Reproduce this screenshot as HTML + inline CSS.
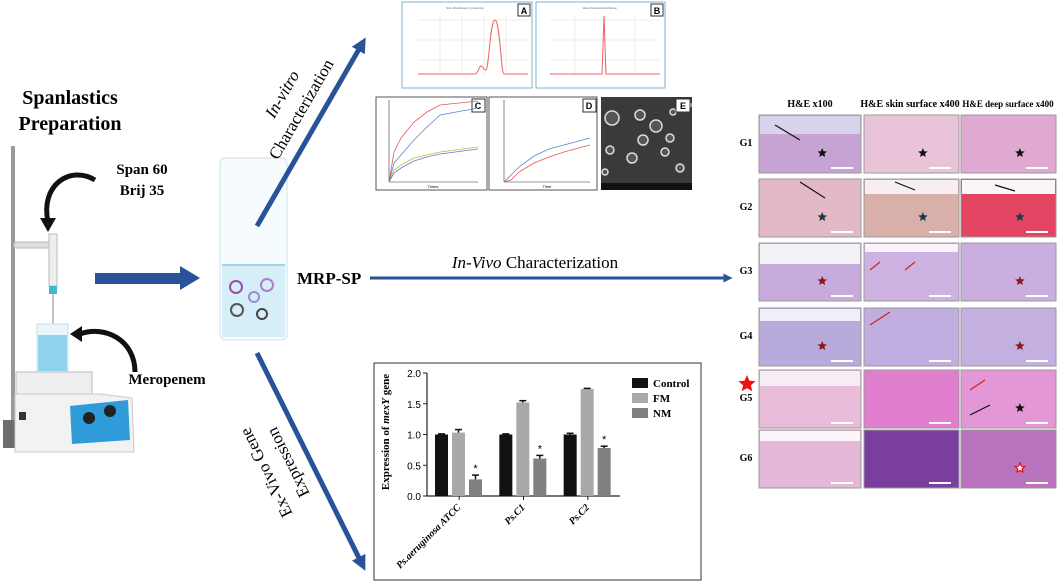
<!DOCTYPE html>
<html><head><meta charset="utf-8">
<style>
html,body{margin:0;padding:0;background:#fff;}
svg{display:block;}
.serif{font-family:"Liberation Serif",serif;}
.sans{font-family:"Liberation Sans",sans-serif;}
</style></head>
<body>
<svg id="root" width="1059" height="583" viewBox="0 0 1059 583" xmlns="http://www.w3.org/2000/svg">
<defs>
<marker id="ah" viewBox="0 0 10 10" refX="5" refY="5" markerWidth="3" markerHeight="3" orient="auto"><path d="M0,0 L10,5 L0,10 z" fill="#2a5298"/></marker>
</defs>

<!-- Left: preparation -->
<g>
<text class="serif" x="70" y="104" font-size="20" font-weight="bold" text-anchor="middle">Spanlastics</text>
<text class="serif" x="70" y="130" font-size="20" font-weight="bold" text-anchor="middle">Preparation</text>
<text class="serif" x="142" y="174" font-size="15" font-weight="bold" text-anchor="middle">Span 60</text>
<text class="serif" x="142" y="195" font-size="15" font-weight="bold" text-anchor="middle">Brij 35</text>
<text class="serif" x="167" y="384" font-size="15" font-weight="bold" text-anchor="middle">Meropenem</text>
<rect x="11" y="146" width="4" height="280" fill="#9a9a9a"/>
<polygon points="3,420 60,420 120,436 130,448 3,448" fill="#6d6d6d"/>
<rect x="14" y="242" width="42" height="6" rx="2" fill="#ddd" stroke="#bbb"/>
<rect x="49" y="234" width="8" height="52" fill="#eee" stroke="#bbb"/>
<rect x="49" y="286" width="8" height="8" fill="#3cb7d6"/>
<line x1="53" y1="294" x2="53" y2="325" stroke="#888" stroke-width="1"/>
<rect x="37" y="324" width="31" height="48" fill="#eaf6fb" stroke="#c6dde6"/>
<rect x="38" y="335" width="29" height="36" fill="#8fd3ec"/>
<polygon points="16,372 92,372 92,394 16,394" fill="#efefef" stroke="#bbb"/>
<polygon points="15,394 100,394 132,398 134,452 15,452" fill="#f2f2f2" stroke="#c9c9c9"/>
<polygon points="70,406 128,400 130,440 72,444" fill="#2f9bd8"/>
<circle cx="89" cy="418" r="6" fill="#222"/><circle cx="110" cy="411" r="6" fill="#222"/>
<rect x="19" y="412" width="7" height="8" fill="#333"/>
<path d="M95,180 C70,165 40,185 48,222" fill="none" stroke="#111" stroke-width="5"/>
<polygon points="40,218 56,218 48,232" fill="#111"/>
<path d="M135,372 C135,340 105,325 80,334" fill="none" stroke="#111" stroke-width="5"/>
<polygon points="82,326 82,342 70,334" fill="#111"/>
<rect x="95" y="273" width="85" height="11" fill="#2a5298"/>
<polygon points="180,266 200,278 180,290" fill="#2a5298"/>
<g>
<rect x="220" y="158" width="67" height="182" rx="5" fill="#f6fbfd" stroke="#d0e2ea"/>
<rect x="222" y="265" width="63" height="72" fill="#d6eef7"/>
<line x1="222" y1="265" x2="285" y2="265" stroke="#9fd4ea" stroke-width="2"/>
<circle cx="236" cy="287" r="6" fill="none" stroke="#9b4fa8" stroke-width="2"/>
<circle cx="254" cy="297" r="5" fill="none" stroke="#9d8ad0" stroke-width="2"/>
<circle cx="267" cy="285" r="6" fill="none" stroke="#b47cc8" stroke-width="2"/>
<circle cx="237" cy="310" r="6" fill="none" stroke="#555" stroke-width="2"/>
<circle cx="262" cy="314" r="5" fill="none" stroke="#444" stroke-width="2"/>
</g>
<text class="serif" x="297" y="284" font-size="17" font-weight="bold">MRP-SP</text>
</g>

<line x1="257" y1="226" x2="362" y2="44" stroke="#2a5298" stroke-width="5" marker-end="url(#ah)"/>
<g transform="translate(287,97) rotate(-60)"><text class="serif" x="0" y="0" font-size="17" font-style="italic" text-anchor="middle">In-vitro</text></g>
<g transform="translate(306,112) rotate(-60)"><text class="serif" x="0" y="0" font-size="17" text-anchor="middle">Characterization</text></g>
<line x1="257" y1="353" x2="362" y2="564" stroke="#2a5298" stroke-width="5" marker-end="url(#ah)"/>
<g transform="translate(271,470) rotate(-116.5)"><text class="serif" x="0" y="0" font-size="17" text-anchor="middle">Ex-Vivo Gene</text></g>
<g transform="translate(293,460) rotate(-116.5)"><text class="serif" x="0" y="0" font-size="17" text-anchor="middle">Expression</text></g>
<line x1="370" y1="278" x2="728" y2="278" stroke="#2a5298" stroke-width="3" marker-end="url(#ah)"/>
<text class="serif" x="535" y="268" font-size="17" text-anchor="middle"><tspan font-style="italic">In-Vivo</tspan> Characterization</text>

<g>
<rect x="402" y="2" width="130" height="86" fill="#fff" stroke="#7fb0d0"/>
<text class="sans" x="465" y="9" font-size="3" fill="#666" text-anchor="middle">Size Distribution by Intensity</text>
<rect x="518" y="4" width="12" height="12" fill="#fff" stroke="#333"/><text class="sans" x="524" y="14" font-size="9" font-weight="bold" text-anchor="middle">A</text>
<g stroke="#ddd" stroke-width="0.5"><line x1="418" y1="20" x2="528" y2="20"/><line x1="418" y1="40" x2="528" y2="40"/><line x1="418" y1="60" x2="528" y2="60"/><line x1="440" y1="16" x2="440" y2="75"/><line x1="462" y1="16" x2="462" y2="75"/><line x1="484" y1="16" x2="484" y2="75"/><line x1="506" y1="16" x2="506" y2="75"/></g>
<path d="M418,74 L475,74 C478,74 479,66 481,66 C483,66 484,71 486,70 C489,68 490,20 495,20 C500,20 501,74 504,74 L528,74" fill="none" stroke="#f06060" stroke-width="1"/>
</g>
<g>
<rect x="536" y="2" width="129" height="86" fill="#fff" stroke="#7fb0d0"/>
<text class="sans" x="600" y="9" font-size="3" fill="#666" text-anchor="middle">Zeta Potential Distribution</text>
<rect x="651" y="4" width="12" height="12" fill="#fff" stroke="#333"/><text class="sans" x="657" y="14" font-size="9" font-weight="bold" text-anchor="middle">B</text>
<g stroke="#ddd" stroke-width="0.5"><line x1="550" y1="20" x2="660" y2="20"/><line x1="550" y1="40" x2="660" y2="40"/><line x1="550" y1="60" x2="660" y2="60"/><line x1="575" y1="16" x2="575" y2="75"/><line x1="605" y1="16" x2="605" y2="75"/><line x1="635" y1="16" x2="635" y2="75"/></g>
<path d="M550,74 L602,74 L604,16 L606,74 L660,74" fill="none" stroke="#f06060" stroke-width="1"/>
</g>
<g>
<rect x="376" y="97" width="111" height="93" fill="#fff" stroke="#555"/>
<rect x="472" y="99" width="13" height="13" fill="#fff" stroke="#333"/><text class="sans" x="478" y="109" font-size="9" font-weight="bold" text-anchor="middle">C</text>
<line x1="389" y1="100" x2="389" y2="182" stroke="#333" stroke-width="0.6"/><line x1="389" y1="182" x2="478" y2="182" stroke="#333" stroke-width="0.6"/>
<path d="M389,182 L394,152 L401,138 L414,122 L427,112 L440,105 L478,101" fill="none" stroke="#e55" stroke-width="0.8"/>
<path d="M389,182 L394,163 L401,155 L414,140 L427,127 L440,115 L478,108" fill="none" stroke="#58c" stroke-width="0.8"/>
<path d="M389,182 L394,170 L401,165 L414,158 L427,155 L440,152 L478,147" fill="none" stroke="#9c3" stroke-width="0.8"/>
<path d="M389,182 L394,173 L401,168 L414,161 L427,157 L440,154 L478,149" fill="none" stroke="#86c" stroke-width="0.8"/>
<text class="sans" x="433" y="188" font-size="4" text-anchor="middle">Times</text>
</g>
<g>
<rect x="489" y="97" width="108" height="93" fill="#fff" stroke="#555"/>
<rect x="583" y="99" width="13" height="13" fill="#fff" stroke="#333"/><text class="sans" x="589" y="109" font-size="9" font-weight="bold" text-anchor="middle">D</text>
<line x1="504" y1="100" x2="504" y2="182" stroke="#333" stroke-width="0.6"/><line x1="504" y1="182" x2="590" y2="182" stroke="#333" stroke-width="0.6"/>
<path d="M504,182 L511,175 L519,167 L534,156 L549,149 L564,145 L590,138" fill="none" stroke="#58c" stroke-width="0.8"/>
<path d="M504,182 L511,180 L519,172 L534,163 L549,157 L564,152 L590,145" fill="none" stroke="#e55" stroke-width="0.8"/>
<text class="sans" x="547" y="188" font-size="4" text-anchor="middle">Time</text>
</g>
<g>
<rect x="601" y="97" width="91" height="93" fill="#3a3a3a"/>
<g fill="#555" stroke="#ddd" stroke-width="1.5">
<circle cx="612" cy="118" r="7"/><circle cx="640" cy="115" r="5"/><circle cx="656" cy="126" r="6"/><circle cx="643" cy="140" r="5"/><circle cx="665" cy="152" r="4"/><circle cx="610" cy="150" r="4"/><circle cx="670" cy="138" r="4"/><circle cx="680" cy="168" r="4"/><circle cx="632" cy="158" r="5"/><circle cx="605" cy="172" r="3"/><circle cx="688" cy="105" r="3"/><circle cx="673" cy="112" r="3"/>
</g>
<rect x="676" y="99" width="14" height="13" fill="#fff" stroke="#333"/><text class="sans" x="683" y="109" font-size="9" font-weight="bold" text-anchor="middle">E</text>
<rect x="601" y="183" width="91" height="7" fill="#111"/>
</g>

<g id="histo">
<text class="serif" x="810" y="107" font-size="10" font-weight="bold" text-anchor="middle">H&amp;E x100</text>
<text class="serif" x="910" y="107" font-size="10" font-weight="bold" text-anchor="middle">H&amp;E skin surface x400</text>
<text class="serif" x="1008" y="107" font-size="9" font-weight="bold" text-anchor="middle">H&amp;E deep surface x400</text>
</g>

<g id="barchart">
<rect x="374" y="363" width="327" height="217" fill="#fff" stroke="#333" stroke-width="1"/>
<g transform="translate(389,432) rotate(-90)"><text class="serif" x="0" y="0" font-size="11" font-weight="bold" text-anchor="middle">Expression of <tspan font-style="italic">mexY</tspan> gene</text></g>
</g>
</svg>
<script>
const NS='http://www.w3.org/2000/svg';
function mk(tag,attrs,parent){const e=document.createElementNS(NS,tag);for(const k in attrs)e.setAttribute(k,attrs[k]);parent.appendChild(e);return e;}

const histo=document.getElementById('histo');
const rowLabels=['G1','G2','G3','G4','G5','G6'];
const rowTops=[115,179,243,308,370,430];
const colLefts=[759,864,961];
const colWidths=[102,95,95];
const cellColors=[
 ['#c7a3d4','#e9c3d8','#dfa9d2'],
 ['#e2b9c4','#d9b0a9','#e24462'],
 ['#c7abdc','#cdb2e2','#cbaee0'],
 ['#b9aadc','#c1aee0','#c4b0e0'],
 ['#e9bcd9','#e07fce','#e397d6'],
 ['#e6b8d8','#7a3f9e','#b873bc']];
const starColors=[
 ['#111','#111','#111'],
 ['#1d3a4a','#1d3a4a','#1d3a4a'],
 ['#8b1a1a',null,'#8b1a1a'],
 ['#8b1a1a',null,'#8b1a1a'],
 [null,null,'#111'],
 [null,null,'#fff']];
function starPts(cx,cy,R){let p=[];for(let i=0;i<10;i++){const r=i%2?R*0.45:R;const a=-Math.PI/2+i*Math.PI/5;p.push((cx+r*Math.cos(a)).toFixed(1)+','+(cy+r*Math.sin(a)).toFixed(1));}return p.join(' ');}
rowLabels.forEach((lab,r)=>{
  const t=mk('text',{x:746,y:rowTops[r]+31,'font-size':10,'font-weight':'bold','text-anchor':'middle','class':'serif'},histo);
  t.textContent=lab;
  
  
  for(let c=0;c<3;c++){
    const rc=mk('rect',{x:colLefts[c],y:rowTops[r],width:colWidths[c],height:58,fill:cellColors[r][c],stroke:'#999','stroke-width':1},histo);
    
    
    mk('rect',{x:colLefts[c]+colWidths[c]-30,y:rowTops[r]+52,width:22,height:2,fill:'#fff'},histo);
  }
});
mk('rect',{x:760,y:116,width:100,height:18,fill:'#d6d3ea'},histo);
mk('rect',{x:760,y:244,width:100,height:20,fill:'#f3f1f6'},histo);
mk('rect',{x:760,y:309,width:100,height:12,fill:'#eef0f8'},histo);
mk('rect',{x:760,y:371,width:100,height:15,fill:'#f4eef3'},histo);
mk('rect',{x:760,y:431,width:100,height:10,fill:'#fbf6fa'},histo);
mk('rect',{x:865,y:180,width:93,height:14,fill:'#f6eef0'},histo);
mk('rect',{x:962,y:180,width:93,height:14,fill:'#faf5f6'},histo);
mk('rect',{x:865,y:244,width:93,height:8,fill:'#f8f4fa'},histo);
rowLabels.forEach((lab,r)=>{
  for(let c=0;c<3;c++){
    const sc=starColors[r][c];
    if(!sc) continue;
    const cx=colLefts[c]+colWidths[c]*0.62, cy=rowTops[r]+38;
    const s=mk('polygon',{points:starPts(cx,cy,5),fill:sc,stroke:sc==='#fff'?'#d00':'none','stroke-width':1},histo);
    
    
  }
});
[[775,125,800,140,'#111'],[895,182,915,190,'#111'],[800,182,825,198,'#111'],[995,185,1015,191,'#111'],[870,270,880,262,'#c22'],[905,270,915,262,'#c22'],[870,325,890,312,'#c22'],[970,390,985,380,'#c22'],[970,415,990,405,'#111']].forEach(a=>{
  const l=mk('line',{x1:a[0],y1:a[1],x2:a[2],y2:a[3],stroke:a[4],'stroke-width':1.2},histo);
  
  
});
const bs=mk('polygon',{points:starPts(747,384,9),fill:'#f01010'},histo);



// ---- Bar chart ----
const categories=['Ps.aeruginosa ATCC','Ps.C1','Ps.C2'];
const seriesNames=['Control','FM','NM'];
const controlVals=[1.0,1.0,1.0];
const fmVals=[1.03,1.52,1.74];
const nmVals=[0.27,0.61,0.78];
const controlErr=[0.01,0.01,0.02];
const fmErr=[0.05,0.03,0.01];
const nmErr=[0.07,0.05,0.03];
const yTicks=[0,0.5,1.0,1.5,2.0];
const yTickLabels=['0.0','0.5','1.0','1.5','2.0'];

const bc=document.getElementById('barchart');
const x0=427,x1=620,yZero=496,yTop=373,yMax=2.0;
const yScale=v=>yZero-(v/yMax)*(yZero-yTop);
const groupW=(x1-x0)/categories.length;
const barW=13,gap=4;
const colors=['#111111','#a9a9a9','#808080'];
const series=[controlVals,fmVals,nmVals];
const errs=[controlErr,fmErr,nmErr];

const ya=mk('line',{x1:x0,y1:yTop,x2:x0,y2:yZero,stroke:'#222','stroke-width':1.2},bc);


const xa=mk('line',{x1:x0,y1:yZero,x2:x1,y2:yZero,stroke:'#222','stroke-width':1.2},bc);


yTicks.forEach((v,i)=>{
  const y=yScale(v);
  mk('line',{x1:x0-4,y1:y,x2:x0,y2:y,stroke:'#222'},bc);
  const t=mk('text',{x:x0-6,y:y+4,'font-size':10,'text-anchor':'end','class':'sans'},bc);
  t.textContent=yTickLabels[i];
  
  
});
categories.forEach((cat,g)=>{
  const gx=x0+8+g*groupW;
  mk('line',{x1:x0+groupW*(g+0.5),y1:yZero,x2:x0+groupW*(g+0.5),y2:yZero+4,stroke:'#222'},bc);
  series.forEach((vals,s)=>{
    const v=vals[g];
    const bx=gx+s*(barW+gap);
    const by=yScale(v);
    const b=mk('rect',{x:bx,y:by,width:barW,height:yZero-by,fill:colors[s]},bc);
    
    
    const ey=yScale(v+errs[s][g]);
    mk('line',{x1:bx+barW/2,y1:by,x2:bx+barW/2,y2:ey,stroke:'#111','stroke-width':1.5},bc);
    mk('line',{x1:bx+3,y1:ey,x2:bx+barW-3,y2:ey,stroke:'#111','stroke-width':1.5},bc);
    if(s===2){
      const st=mk('text',{x:bx+barW/2,y:ey-3,'font-size':11,'text-anchor':'middle','class':'sans'},bc);
      st.textContent='*';
      
      
    }
  });
  const cx=x0+groupW*(g+0.5)+2, cy=yZero+12;
  const lbl=mk('text',{x:cx,y:cy,'font-size':10,'font-weight':'bold','font-style':'italic','text-anchor':'end','class':'serif',transform:'rotate(-45 '+cx+' '+cy+')'},bc);
  lbl.textContent=cat;
  
  
});
seriesNames.forEach((n,s)=>{
  const ly=383+s*15;
  const sw=mk('rect',{x:632,y:ly-5,width:16,height:10,fill:colors[s]},bc);
  
  
  const t=mk('text',{x:653,y:ly+4,'font-size':11,'font-weight':'bold','class':'serif'},bc);
  t.textContent=n;
  
  
});
</script>
</body></html>
